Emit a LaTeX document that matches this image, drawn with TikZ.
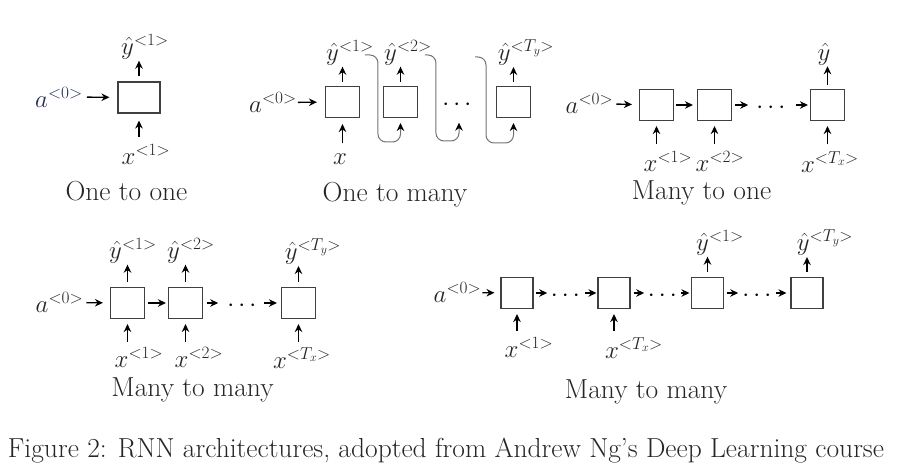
\documentclass[tikz,border=0pt]{standalone}
\usepackage{amsmath}
\usepackage{xcolor}
\usepackage{tikz}
\usetikzlibrary{arrows.meta, positioning}
\definecolor{inkblue}{RGB}{35,45,85}

\begin{document}
\begin{tikzpicture}[
		% Picture Styling
		x=1pt, y=-1pt,
		>=Stealth,
		cell/.style={draw=black!75, line width=1.1pt, minimum width=34pt, minimum height=31pt, inner sep=0pt},
		ellip/.style={minimum width=24pt, minimum height=31pt, inner sep=0pt, font=\fontsize{24}{28}\selectfont},
		lbl/.style={inner sep=0pt, font=\fontsize{24}{28}\selectfont, text=black!85},
		heading/.style={anchor=base, inner sep=0pt, font=\fontsize{27.5}{32}\selectfont, text=black!85},
		flow/.style={-{Stealth[length=8pt, width=7.5pt]}, line width=1.4pt},
		feed/.style={draw=black!55, line width=1pt, rounded corners=8pt, -{Stealth[length=8pt, width=7.5pt, color=black]}}
	]
	\useasboundingbox (0,0) rectangle (906,470);

	% One to one
	\node[cell, minimum width=42pt] (b11) at (139,97.5) {};
	\node[lbl, text=inkblue] (a01) at (59,97) {$a^{<0>}$};
	\node[lbl] (y11) at (145,47) {$\hat{y}^{<1>}$};
	\node[lbl] (x11) at (146,154) {$x^{<1>}$};
	\node[heading] (t1) at (126.5,201) {One to one};
	\draw[flow, shorten <=4pt, shorten >=8pt] (a01) -- (b11);
	\draw[flow, shorten <=5pt, shorten >=1pt] (b11) -- (b11 |- y11.south);
	\draw[flow, shorten <=7pt, shorten >=7pt] (b11 |- x11.north) -- (b11);

	% One to many
	\node[cell] (b21) at (342.5,102) {};
	\node[cell] (b22) at (400.5,102) {};
	\node[ellip] (d21) at (459,102) {\raisebox{-9pt}[0pt][0pt]{$\cdots$}};
	\node[cell] (b23) at (513.5,102) {};
	\node[lbl] (a02) at (273,102.5) {$a^{<0>}$};
	\node[lbl] (y21) at (350,53) {$\hat{y}^{<1>}$};
	\node[lbl] (y22) at (408,53) {$\hat{y}^{<2>}$};
	\node[lbl] (y23) at (526,53) {$\hat{y}^{<T_y>}$};
	\node[lbl] (x21) at (340,159) {$x$};
	\coordinate (f23) at (475,57);
	\node[heading] (t2) at (395,202) {One to many};
	\draw[flow, shorten <=1pt, shorten >=8pt] (a02) -- (b21);
	\draw[flow, shorten <=4pt, shorten >=1pt] (b21) -- (b21 |- y21.south);
	\draw[flow, shorten <=4pt, shorten >=1pt] (b22) -- (b22 |- y22.south);
	\draw[flow, shorten <=4pt, shorten >=1pt] (b23) -- (b23 |- y23.south);
	\draw[flow, shorten <=10pt, shorten >=6pt] (b21 |- x21.north) -- (b21);
	% Feedback of each output into the next step
	\draw[feed, shorten >=5pt] ([xshift=-9pt,yshift=-2pt]y21.east) -- ++(13,0) -- ++(0,87) -| (b22);
	\draw[feed, shorten >=5pt] ([xshift=-7pt,yshift=-2pt]y22.east) -- ++(11,0) -- ++(0,86) -| (d21);
	\draw[feed, shorten >=5pt] (f23) -- ++(11,0) -- ++(0,86) -| (b23);

	% Many to one
	\node[cell] (b31) at (656.5,105) {};
	\node[cell] (b32) at (714.5,105) {};
	\node[ellip] (d31) at (773,105) {\raisebox{-9pt}[0pt][0pt]{$\cdots$}};
	\node[cell] (b33) at (827.5,105) {};
	\node[lbl] (a03) at (589.5,103.5) {$a^{<0>}$};
	\node[lbl] (y31) at (824,54) {$\hat{y}$};
	\node[lbl] (x31) at (668,161) {$x^{<1>}$};
	\node[lbl] (x32) at (720,161) {$x^{<2>}$};
	\node[lbl] (x33) at (830,162) {$x^{<T_x>}$};
	\node[heading] (t3) at (701.5,200) {Many to one};
	\draw[flow, shorten <=3pt, shorten >=7pt] (a03) -- (b31);
	\draw[flow, shorten <=2pt, shorten >=4pt] (b31) -- (b32);
	\draw[flow, shorten <=3pt, shorten >=8pt] (b32) -- (d31);
	\draw[flow, shorten <=6pt, shorten >=2pt] (d31) -- (b33);
	\draw[flow, shorten <=4pt, shorten >=1pt] (b33) -- (b33 |- y31.south);
	\draw[flow, shorten <=7pt, shorten >=5pt] (b31 |- x31.north) -- (b31);
	\draw[flow, shorten <=7pt, shorten >=5pt] (b32 |- x32.north) -- (b32);
	\draw[flow, shorten <=7pt, shorten >=5pt] (b33 |- x33.north) -- (b33);

	% Many to many (same length)
	\node[cell] (b41) at (127.5,303) {};
	\node[cell] (b42) at (185.5,303) {};
	\node[ellip] (d41) at (244,303) {\raisebox{-9pt}[0pt][0pt]{$\cdots$}};
	\node[cell] (b43) at (298.5,303) {};
	\node[lbl] (a04) at (59.5,302.5) {$a^{<0>}$};
	\node[lbl] (y41) at (133,251) {$\hat{y}^{<1>}$};
	\node[lbl] (y42) at (191,251) {$\hat{y}^{<2>}$};
	\node[lbl] (y43) at (313,252) {$\hat{y}^{<T_y>}$};
	\node[lbl] (x41) at (139,357) {$x^{<1>}$};
	\node[lbl] (x42) at (199,357) {$x^{<2>}$};
	\node[lbl] (x43) at (302,358) {$x^{<T_x>}$};
	\node[heading] (t4) at (192.5,397) {Many to many};
	\draw[flow, shorten <=3pt, shorten >=7pt] (a04) -- (b41);
	\draw[flow, shorten <=3pt, shorten >=2pt] (b41) -- (b42);
	\draw[flow, shorten <=4pt, shorten >=9pt] (b42) -- (d41);
	\draw[flow, shorten <=3pt, shorten >=4pt] (d41) -- (b43);
	\draw[flow, shorten <=5pt, shorten >=1pt] (b41) -- (b41 |- y41.south);
	\draw[flow, shorten <=5pt, shorten >=1pt] (b42) -- (b42 |- y42.south);
	\draw[flow, shorten <=5pt, shorten >=1pt] (b43) -- (b43 |- y43.south);
	\draw[flow, shorten <=5pt, shorten >=5pt] (b41 |- x41.north) -- (b41);
	\draw[flow, shorten <=5pt, shorten >=5pt] (b42 |- x42.north) -- (b42);
	\draw[flow, shorten <=5pt, shorten >=5pt] (b43 |- x43.north) -- (b43);

	% Many to many (encoder-decoder)
	\node[cell, minimum width=32pt] (b51) at (517,293) {};
	\node[ellip] (d51) at (567.5,293) {\raisebox{-9pt}[0pt][0pt]{$\cdots$}};
	\node[cell, minimum width=32pt] (b52) at (614,293) {};
	\node[ellip] (d52) at (664.5,293) {\raisebox{-9pt}[0pt][0pt]{$\cdots$}};
	\node[cell, minimum width=32pt] (b53) at (707.5,293) {};
	\node[ellip] (d53) at (759,293) {\raisebox{-9pt}[0pt][0pt]{$\cdots$}};
	\node[cell, minimum width=32pt] (b54) at (807,293) {};
	\node[lbl] (a05) at (457.5,292.5) {$a^{<0>}$};
	\node[lbl] (y51) at (720,243) {$\hat{y}^{<1>}$};
	\node[lbl] (y52) at (825,243) {$\hat{y}^{<T_y>}$};
	\node[lbl] (x51) at (529,347) {$x^{<1>}$};
	\node[lbl] (x52) at (634,348) {$x^{<T_x>}$};
	\node[heading] (t5) at (646,399) {Many to many};
	\draw[flow, shorten <=1pt, shorten >=6pt] (a05) -- (b51);
	\draw[flow, shorten <=2pt, shorten >=3.5pt] (b51) -- (d51);
	\draw[flow, shorten <=0.5pt, shorten >=1pt] (d51) -- (b52);
	\draw[flow, shorten <=3pt, shorten >=3.5pt] (b52) -- (d52);
	\draw[flow, shorten >=1.5pt] (d52) -- (b53);
	\draw[flow, shorten <=2.5pt, shorten >=4pt] (b53) -- (d53);
	\draw[flow, shorten >=4pt] (d53) -- (b54);
	\draw[flow, shorten <=5pt, shorten >=1pt] (b53) -- (b53 |- y51.south);
	\draw[flow, shorten <=5pt, shorten >=1pt] (b54) -- (b54 |- y52.south);
	\draw[flow, shorten <=6pt, shorten >=5pt] (b51 |- x51.north) -- (b51);
	\draw[flow, shorten <=6pt, shorten >=5pt] (b52 |- x52.north) -- (b52);

	% Caption
	\node[heading] (cap) at (446,458) {Figure 2: RNN architectures, adopted from Andrew Ng's Deep Learning course};
\end{tikzpicture}
\end{document}
